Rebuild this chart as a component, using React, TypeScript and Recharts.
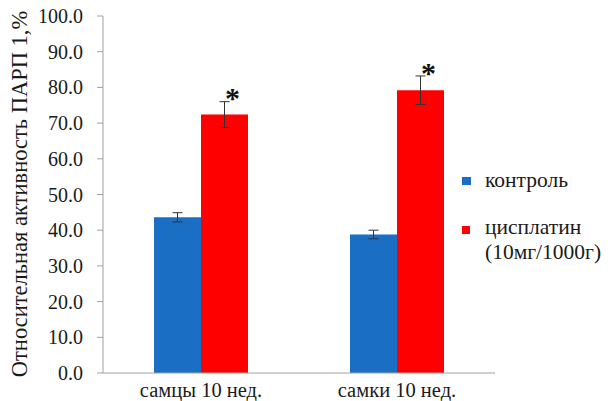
import React from 'react'
import {
  BarChart,
  Bar,
  XAxis,
  YAxis,
  ErrorBar,
  LabelList,
} from 'recharts'

const categories = ['самцы 10 нед.', 'самки 10 нед.']
const controlValues = [43.6, 38.8]
const controlErrors = [1.3, 1.2]
const cisplatinValues = [72.4, 79.2]
const cisplatinErrors = [3.6, 4.0]
const significance = ['*', '*']
const yTicks = [0, 10, 20, 30, 40, 50, 60, 70, 80, 90, 100]
const categoryEdges = [0, 1, 2]
const seriesNames = ['контроль', 'цисплатин', '(10мг/1000г)']

const FONT = '"Liberation Serif", "Times New Roman", serif'
const BLUE = '#1a6ec4'
const RED = '#ff0000'
const TEXT = '#1a1a1a'
const AXIS = '#a0a0a0'

const data = categories.map((name, i) => ({
  name,
  control: controlValues[i],
  controlErr: controlErrors[i],
  cisplatin: cisplatinValues[i],
  cisplatinErr: cisplatinErrors[i],
  sig: significance[i],
}))

function Star(props: any) {
  const { x, y, width, value } = props
  return (
    <text
      x={x + width / 2 + 8}
      y={y - 7}
      textAnchor="middle"
      fontFamily={FONT}
      fontWeight="bold"
      fontSize={30}
      fill="#111"
    >
      {value}
    </text>
  )
}

function YTick(props: any) {
  const { x, y, payload } = props
  return (
    <text x={x} y={y + 7} textAnchor="end" fontFamily={FONT} fontSize={20} fill={TEXT}>
      {Number(payload.value).toFixed(1)}
    </text>
  )
}

function XTick(props: any) {
  const { x, payload } = props
  return (
    <text x={x} y={397} textAnchor="middle" fontFamily={FONT} fontSize={20.5} fill={TEXT}>
      {payload.value}
    </text>
  )
}

function YLabel() {
  return (
    <text
      x={0}
      y={0}
      transform="translate(27, 194) rotate(-90)"
      textAnchor="middle"
      fontFamily={FONT}
      fontSize={22.5}
      fill={TEXT}
    >
      Относительная активность  ПАРП 1,%
    </text>
  )
}

function LegendBox() {
  return (
    <svg
      width={150}
      height={110}
      style={{ position: 'absolute', left: 460, top: 160 }}
      fontFamily={FONT}
      fontSize={21.5}
      fill={TEXT}
    >
      <rect x={2} y={17} width={9} height={8} fill={BLUE} />
      <text x={25} y={27}>{seriesNames[0]}</text>
      <rect x={2} y={66} width={8} height={8} fill={RED} />
      <text x={25} y={74}>{seriesNames[1]}</text>
      <text x={25} y={99}>{seriesNames[2]}</text>
    </svg>
  )
}

export default function App() {
  return (
    <div
      style={{
        position: 'absolute',
        left: 0,
        top: 0,
        width: 610,
        height: 401,
        background: '#fff',
        fontFamily: FONT,
      }}
    >
      <BarChart
        width={610}
        height={401}
        data={data}
        margin={{ top: 16, right: 115, bottom: 0, left: 0 }}
        barSize={47}
        barGap={0}
      >
        <XAxis
          xAxisId="edges"
          type="number"
          domain={[0, 2]}
          ticks={categoryEdges}
          height={0}
          axisLine={false}
          tick={false}
          tickSize={5}
          tickLine={{ stroke: AXIS }}
        />
        <XAxis
          dataKey="name"
          height={28}
          tickLine={false}
          axisLine={{ stroke: AXIS }}
          tick={<XTick />}
        />
        <YAxis
          width={103}
          domain={[0, 100]}
          ticks={yTicks}
          interval={0}
          axisLine={{ stroke: AXIS }}
          tickLine={{ stroke: AXIS }}
          tickSize={6}
          tickMargin={14}
          tick={<YTick />}
          label={<YLabel />}
        />
        <Bar dataKey="control" fill={BLUE} isAnimationActive={false}>
          <ErrorBar dataKey="controlErr" width={5} stroke="#333" strokeWidth={1} />
        </Bar>
        <Bar dataKey="cisplatin" fill={RED} isAnimationActive={false}>
          <ErrorBar dataKey="cisplatinErr" width={5} stroke="#333" strokeWidth={1} />
          <LabelList dataKey="sig" content={<Star />} />
        </Bar>
      </BarChart>
      <LegendBox />
    </div>
  )
}
